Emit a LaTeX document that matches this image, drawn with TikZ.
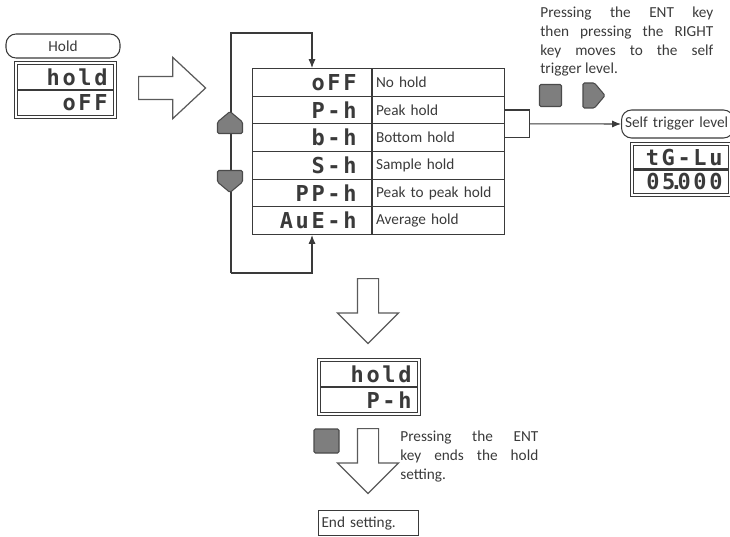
\documentclass[tikz,border=0pt]{standalone}
\usepackage{fontspec}
\setmainfont{Carlito}
\newfontfamily\segfont[LetterSpace=12]{DejaVu Sans Mono}
\usetikzlibrary{arrows.meta,shapes.arrows,fit,calc,positioning}
\definecolor{linec}{HTML}{3A3A3A}
\definecolor{keyfill}{HTML}{7E7E7E}
\definecolor{keyline}{HTML}{4A4A4A}
\definecolor{arrowline}{HTML}{5A5A5A}
\tikzset{
  txt/.style={font=\fontsize{8.7}{10.6}\selectfont, text=linec},
  segtxt/.style={font=\segfont\bfseries\fontsize{12.5}{12.5}\selectfont, text=linec},
  cell/.style={draw=linec, line width=0.6pt, inner ysep=0pt},
  segcell/.style={cell, segtxt, minimum height=0.553cm, inner xsep=0.3cm, text width=1.78cm, align=right},
  desccell/.style={cell, txt, minimum height=0.553cm, inner xsep=0.07cm, text width=2.5cm, align=left},
  lcdrow/.style={cell, segtxt, inner xsep=0.12cm, align=right},
  lcdframe/.style={draw=linec, line width=0.6pt, inner sep=1.2pt},
  tag/.style={draw=linec, line width=0.6pt, rounded corners=0.2cm, txt},
  bigarrow/.style={single arrow, draw=arrowline, fill=white, line width=0.7pt, inner xsep=0pt,
    inner ysep=0.22cm, minimum width=1.2cm, single arrow head extend=0.38cm},
  keybtn/.style={fill=keyfill, draw=keyline, line width=0.6pt, rounded corners=0.8pt},
  flow/.style={draw=linec, line width=0.6pt},
  tip/.style={-{Latex[length=5pt,width=4pt]}},
  arrowkey/.pic={\filldraw[keybtn] (-11,-12.5) -- (0.5,-12.5) -- (11,0) -- (0.5,12.5) -- (-11,12.5) -- cycle;}
}
\begin{document}
\begin{tikzpicture}[x=0.02cm,y=-0.02cm]
\useasboundingbox (0,0) rectangle (730,537);
% hold setting entry
\node[tag, minimum width=2.28cm, minimum height=0.48cm] (holdtag) at (63,46) {Hold};
\node[lcdrow, anchor=north west, minimum width=1.92cm, minimum height=0.5cm, text width=1.68cm] (holdtop) at (17,64) {hold};
\node[lcdrow, anchor=north, minimum width=1.92cm, minimum height=0.5cm, text width=1.68cm] (holdbot) at (holdtop.south) {oFF};
\node[lcdframe, fit=(holdtop)(holdbot)] (holdlcd) {};
\node[bigarrow, anchor=tail, minimum height=1.34cm, single arrow tip angle=86] (toright) at (138,88) {};
% hold mode table
\foreach \code/\mode [count=\i] in {oFF/No hold, P-h/Peak hold, b-h/Bottom hold, S-h/Sample hold, PP-h/Peak to peak hold, AuE-h/Average hold}{
  \node[segcell, anchor=north west] (seg\i) at (252,{68+(\i-1)*27.67}) {\code};
  \node[desccell, anchor=west] (desc\i) at (seg\i.east) {\mode};
}
\coordinate (looptop) at (231,33);
\coordinate (loopbot) at (231,273);
\draw[flow,tip] (loopbot) -- (looptop) -| (seg1.north);
\draw[flow,tip] (loopbot) -| (seg6.south);
\pic[rotate=90] at (230,122.5) {arrowkey};
\pic[rotate=-90] at (230,181.5) {arrowkey};
% self trigger level
\node[txt, anchor=north west, text width=3.46cm, align=justify, inner sep=0pt] (rightnote) at (540,7)
  {Pressing the ENT key\linebreak then pressing the RIGHT\linebreak key moves to the self\linebreak trigger level.};
\node[keybtn, minimum size=0.44cm, inner sep=0pt] (entkey) at (550.5,95.5) {};
\pic at (594,95.5) {arrowkey};
\draw[flow] (desc2.east) -- ++(24,0) |- (desc3.east);
\node[tag, anchor=west, minimum width=2.2cm, minimum height=0.56cm, text width=2.1cm, inner xsep=0.07cm, align=left] (selftag) at (621,124) {Self trigger level};
\draw[flow,tip] ($(desc2.east)!0.5!(desc3.east)+(24,0)$) -- (selftag.west);
\node[lcdrow, anchor=north west, minimum width=1.86cm, minimum height=0.47cm, text width=1.66cm] (trigtop) at (633,145) {tG-Lu};
\node[lcdrow, anchor=north, minimum width=1.86cm, minimum height=0.47cm, text width=1.66cm] (trigbot) at (trigtop.south) {05\kern-0.25em.\kern-0.25em000};
\node[lcdframe, fit=(trigtop)(trigbot)] (triglcd) {};
% result and end
\node[bigarrow, rotate=-90, anchor=tail, minimum height=1.3cm, inner ysep=0.2cm, single arrow head extend=0.4cm, single arrow tip angle=90] (todown) at (368,278) {};
\node[lcdrow, anchor=north west, minimum width=1.9cm, minimum height=0.5cm, text width=1.7cm] (restop) at (320,361) {hold};
\node[lcdrow, anchor=north, minimum width=1.9cm, minimum height=0.5cm, text width=1.7cm] (resbot) at (restop.south) {P-h};
\node[lcdframe, fit=(restop)(resbot)] (reslcd) {};
\node[keybtn, minimum width=0.5cm, minimum height=0.48cm, inner sep=0pt] (endkey) at (326.5,441) {};
\node[bigarrow, rotate=-90, anchor=tail, minimum height=1.3cm, inner ysep=0.2cm, single arrow head extend=0.4cm, single arrow tip angle=90] (toend) at (368,428) {};
\node[txt, anchor=north west, text width=2.76cm, align=justify, inner sep=0pt] (endnote) at (400,431)
  {Pressing the ENT\linebreak key ends the hold\linebreak setting.};
\node[cell, txt, anchor=north west, minimum width=2cm, minimum height=0.5cm, text width=1.88cm, inner xsep=0.06cm, align=left] (endset) at (318,510) {End setting.};
\end{tikzpicture}
\end{document}
